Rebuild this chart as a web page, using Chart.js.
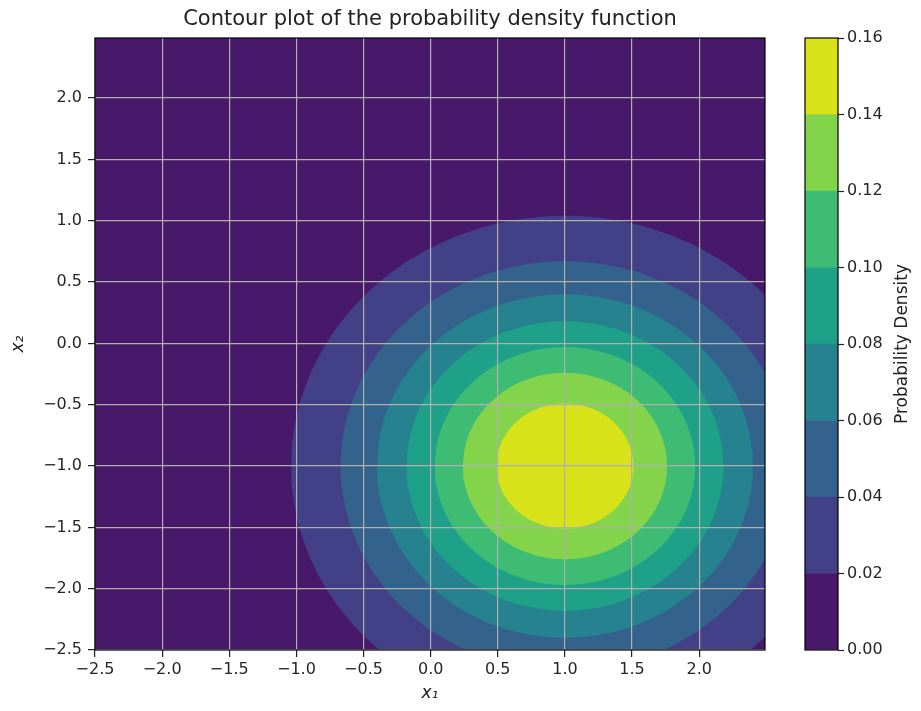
<!DOCTYPE html>
<html><head><meta charset="utf-8">
<script src="https://cdn.jsdelivr.net/npm/chart.js@4.4.1/dist/chart.umd.min.js"></script>
<style>
html,body{margin:0;padding:0;background:#fff;width:921px;height:711px;overflow:hidden}
.wrap{position:absolute;top:0}
</style></head><body>
<div class="wrap" style="left:0;width:860px;height:711px"><canvas id="main"></canvas></div>
<div class="wrap" style="left:780px;width:141px;height:711px"><canvas id="cbar"></canvas></div>
<script>
// ---- data ----
const levels = [0.00, 0.02, 0.04, 0.06, 0.08, 0.10, 0.12, 0.14, 0.16];
const bandColors = ['#48186a', '#424086', '#33638d', '#26828e', '#1fa088', '#3fbc73', '#84d44b', '#d8e219'];
const contourLevels = [0.02, 0.04, 0.06, 0.08, 0.10, 0.12, 0.14];
const contourRadii = [2.04, 1.67, 1.40, 1.18, 0.97, 0.76, 0.51];
const peakCenter = [1.0, -1.0];
const xTicks = [-2.5, -2.0, -1.5, -1.0, -0.5, 0.0, 0.5, 1.0, 1.5, 2.0];
const yTicks = [-2.5, -2.0, -1.5, -1.0, -0.5, 0.0, 0.5, 1.0, 1.5, 2.0];
const cbTicks = [0.00, 0.02, 0.04, 0.06, 0.08, 0.10, 0.12, 0.14, 0.16];
const xRange = [-2.5, 2.49];
const yRange = [-2.5, 2.49];
const titleText = 'Contour plot of the probability density function';
const xLabel = 'x\u2081';
const yLabel = 'x\u2082';
const cbLabel = 'Probability Density';

Chart.defaults.font.family = "'DejaVu Sans', sans-serif";
Chart.defaults.color = '#262626';
Chart.defaults.animation = false;

const fmt = (v, d) => (v < 0 ? '\u2212' : '') + Math.abs(v).toFixed(d);

// closed outline of each contour level (circle in data units around the peak)
function outline(r) {
  const pts = [];
  const n = 360;
  for (let k = 0; k <= n; k++) {
    const a = 2 * Math.PI * k / n;
    pts.push({x: peakCenter[0] + r * Math.cos(a), y: peakCenter[1] + r * Math.sin(a)});
  }
  return pts;
}

const datasets = contourRadii.map((r, i) => ({
  label: 'level ' + contourLevels[i].toFixed(2),
  data: outline(r),
  showLine: true,
  fill: 'shape',
  backgroundColor: bandColors[i + 1],
  borderColor: bandColors[i + 1],
  borderWidth: 0,
  pointRadius: 0,
  tension: 0,
  order: contourRadii.length - 1 - i
}));

const bgPlugin = {
  id: 'bg',
  beforeDatasetsDraw(chart) {
    const {ctx, chartArea: a} = chart;
    ctx.save();
    ctx.fillStyle = bandColors[0];
    ctx.fillRect(a.left, a.top, a.right - a.left, a.bottom - a.top);
    ctx.restore();
  }
};
const framePlugin = {
  id: 'frame',
  afterDraw(chart) {
    const {ctx, chartArea: a} = chart;
    ctx.save();
    ctx.strokeStyle = '#000';
    ctx.lineWidth = 1.2;
    ctx.strokeRect(a.left, a.top, a.right - a.left, a.bottom - a.top);
    ctx.restore();
  }
};

new Chart(document.getElementById('main'), {
  type: 'scatter',
  data: {datasets},
  plugins: [bgPlugin, framePlugin],
  options: {
    responsive: true,
    maintainAspectRatio: false,
    layout: {padding: 0},
    plugins: {
      legend: {display: false},
      tooltip: {enabled: false},
      title: {
        display: true, text: titleText, color: '#222',
        font: {size: 21, weight: 'normal', lineHeight: 1.2},
        padding: {top: 7, bottom: 5.8}
      }
    },
    scales: {
      x: {
        type: 'linear', min: xRange[0], max: xRange[1],
        afterBuildTicks: s => { s.ticks = xTicks.map(v => ({value: v})); },
        afterFit: s => { s.height = 61; },
        ticks: {callback: v => fmt(v, 1), font: {size: 16}, padding: 3, maxRotation: 0, autoSkip: false, color: '#262626'},
        grid: {z: 1, color: '#b0b0b0', lineWidth: 1.2, drawTicks: true, tickLength: 7, tickColor: '#222', tickWidth: 1.2},
        border: {display: false},
        title: {display: true, text: xLabel, font: {size: 17, style: 'italic', lineHeight: 1.2}, padding: {top: 0, bottom: 7}, color: '#222'}
      },
      y: {
        type: 'linear', min: yRange[0], max: yRange[1], position: 'left',
        afterBuildTicks: s => { s.ticks = yTicks.map(v => ({value: v})); },
        afterFit: s => { s.width = 95; },
        ticks: {callback: v => fmt(v, 1), font: {size: 16}, padding: 6, autoSkip: false, color: '#262626'},
        grid: {z: 1, color: '#b0b0b0', lineWidth: 1.2, drawTicks: true, tickLength: 7, tickColor: '#222', tickWidth: 1.2},
        border: {display: false},
        title: {display: true, text: yLabel, font: {size: 17, style: 'italic', lineHeight: 1.2}, padding: {top: 8, bottom: 0}, color: '#222'}
      },
      y2: {
        type: 'linear', min: yRange[0], max: yRange[1], position: 'right',
        afterFit: s => { s.width = 95; },
        ticks: {display: false},
        grid: {display: false, drawTicks: false},
        border: {display: false}
      }
    }
  }
});

// ---- colour bar ----
const cbLabelPlugin = {
  id: 'cbLabel',
  afterDraw(chart) {
    const {ctx, chartArea: a} = chart;
    ctx.save();
    ctx.strokeStyle = '#000';
    ctx.lineWidth = 1.2;
    ctx.strokeRect(a.left, a.top, a.right - a.left, a.bottom - a.top);
    ctx.translate(123, (a.top + a.bottom) / 2);
    ctx.rotate(-Math.PI / 2);
    ctx.fillStyle = '#222';
    ctx.font = "17px 'DejaVu Sans', sans-serif";
    ctx.textAlign = 'center';
    ctx.textBaseline = 'middle';
    ctx.fillText(cbLabel, 0, 0);
    ctx.restore();
  }
};

new Chart(document.getElementById('cbar'), {
  type: 'bar',
  data: {
    labels: ['density'],
    datasets: bandColors.map((c, i) => ({
      label: levels[i].toFixed(2) + '-' + levels[i + 1].toFixed(2),
      data: [[levels[i], levels[i + 1]]],
      backgroundColor: c,
      borderWidth: 0,
      barPercentage: 1,
      categoryPercentage: 1,
      grouped: false
    }))
  },
  plugins: [cbLabelPlugin],
  options: {
    responsive: true,
    maintainAspectRatio: false,
    layout: {padding: {left: 25, top: 38, bottom: 61, right: 0}},
    plugins: {legend: {display: false}, tooltip: {enabled: false}},
    scales: {
      x: {display: false},
      y: {
        type: 'linear', position: 'right', min: levels[0], max: levels[levels.length - 1],
        afterBuildTicks: s => { s.ticks = cbTicks.map(v => ({value: v})); },
        afterFit: s => { s.width = 83; },
        ticks: {callback: v => v.toFixed(2), font: {size: 16}, padding: 3, autoSkip: false, color: '#262626'},
        grid: {drawOnChartArea: false, drawTicks: true, tickLength: 6, tickColor: '#222', tickWidth: 1.2},
        border: {display: false}
      }
    }
  }
});
</script>
</body></html>
